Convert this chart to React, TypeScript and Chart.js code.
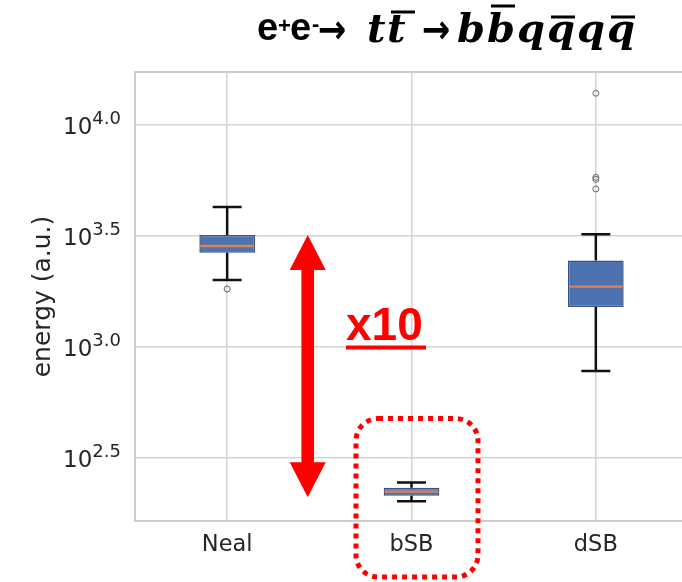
import React, { useEffect, useRef } from 'react';
import { Chart, registerables } from 'chart.js';

Chart.register(...registerables);

// ---- data (energy, a.u.) ----
const categories = ['Neal', 'bSB', 'dSB'];
const whiskerLow = [2005, 202, 780];
const quartile1 = [2660, 214, 1515];
const medians = [2850, 223, 1870];
const quartile3 = [3195, 232, 2450];
const whiskerHigh = [4275, 245, 3220];
const outliers: number[][] = [[1825], [], [5150, 5690, 5810, 13900]];
const yTickExponents = [2.5, 3.0, 3.5, 4.0];
const yMinExp = 2.2162;
const yMaxExp = 4.2387;

const SANS = '"DejaVu Sans", sans-serif';

const boxPlugin = {
  id: 'boxExtras',
  beforeDatasetsDraw(chart: any) {
    const { ctx, chartArea: a } = chart;
    ctx.save();
    ctx.strokeStyle = '#cccccc';
    ctx.lineWidth = 2;
    ctx.strokeRect(a.left, a.top, a.right - a.left, a.bottom - a.top);
    ctx.restore();
  },
  afterDatasetsDraw(chart: any) {
    const { ctx } = chart;
    const xs = chart.scales.x;
    const ys = chart.scales.y;
    const meta = chart.getDatasetMeta(0);
    ctx.save();
    categories.forEach((_, i) => {
      const cx = xs.getPixelForValue(i);
      const yLo = ys.getPixelForValue(whiskerLow[i]);
      const yQ1 = ys.getPixelForValue(quartile1[i]);
      const yMed = ys.getPixelForValue(medians[i]);
      const yQ3 = ys.getPixelForValue(quartile3[i]);
      const yHi = ys.getPixelForValue(whiskerHigh[i]);
      ctx.strokeStyle = '#111111';
      ctx.lineWidth = 2.5;
      ctx.lineCap = 'butt';
      ctx.beginPath();
      ctx.moveTo(cx, yQ3);
      ctx.lineTo(cx, yHi);
      ctx.moveTo(cx, yQ1);
      ctx.lineTo(cx, yLo);
      ctx.moveTo(cx - 14.5, yHi);
      ctx.lineTo(cx + 14.5, yHi);
      ctx.moveTo(cx - 14.5, yLo);
      ctx.lineTo(cx + 14.5, yLo);
      ctx.stroke();
      const hw = meta.data[i].width / 2;
      ctx.strokeStyle = '#dd8452';
      ctx.lineWidth = 2.3;
      ctx.beginPath();
      ctx.moveTo(cx - hw + 1, yMed);
      ctx.lineTo(cx + hw - 1, yMed);
      ctx.stroke();
      ctx.strokeStyle = '#666666';
      ctx.lineWidth = 1;
      outliers[i].forEach((v) => {
        ctx.beginPath();
        ctx.arc(cx, ys.getPixelForValue(v), 3, 0, Math.PI * 2);
        ctx.stroke();
      });
    });
    ctx.restore();
  },
  afterDraw(chart: any) {
    const { ctx } = chart;
    const xs = chart.scales.x;
    const ys = chart.scales.y;
    ctx.save();
    // y tick labels 10^e
    ctx.fillStyle = '#262626';
    ctx.textBaseline = 'alphabetic';
    yTickExponents.forEach((e) => {
      const gy = ys.getPixelForValue(Math.pow(10, e));
      const sup = e.toFixed(1);
      ctx.font = `18px ${SANS}`;
      const sw = ctx.measureText(sup).width;
      ctx.textAlign = 'right';
      ctx.fillText(sup, 121, gy - 0.5);
      ctx.font = `23px ${SANS}`;
      ctx.fillText('10', 121 - sw, gy + 9.5);
    });

    // title
    ctx.fillStyle = '#000000';
    ctx.textAlign = 'left';
    ctx.font = 'bold 38px "Liberation Sans"';
    ctx.fillText('e', 257, 40);
    ctx.fillText('e', 290, 40);
    ctx.font = 'bold 22px "Liberation Sans"';
    ctx.fillText('+', 278, 33);
    ctx.fillText('-', 312, 31);
    ctx.font = 'bold 40px "DejaVu Sans"';
    [318, 422].forEach((x) => {
      ctx.save();
      ctx.translate(x, 43);
      ctx.scale(0.85, 1);
      ctx.fillText('→', 0, 0);
      ctx.restore();
    });
    ctx.font = 'bold italic 40px "DejaVu Serif"';
    const letters: [string, number, number | null][] = [
      ['t', 367, null],
      ['t', 387, 12],
      ['b', 457, null],
      ['b', 487, 6],
      ['q', 517, null],
      ['q', 547, 17],
      ['q', 577, null],
      ['q', 607, 17],
    ];
    letters.forEach(([ch, x, bar]) => {
      ctx.fillText(ch, x, 42);
      if (bar !== null) ctx.fillRect(x + 4, bar - 1.5, 24, 3);
    });

    // red annotations
    const xN = xs.getPixelForValue(0);
    const xB = xs.getPixelForValue(1);
    const ax = xN + 0.437 * (xB - xN);
    const top = ys.getPixelForValue(quartile3[0]);
    const bot = ys.getPixelForValue(quartile1[1]) + 1.5;
    ctx.fillStyle = '#ff0000';
    ctx.beginPath();
    ctx.moveTo(ax, top);
    ctx.lineTo(ax + 18, top + 35);
    ctx.lineTo(ax + 6.3, top + 35);
    ctx.lineTo(ax + 6.3, bot - 35);
    ctx.lineTo(ax + 18, bot - 35);
    ctx.lineTo(ax, bot);
    ctx.lineTo(ax - 18, bot - 35);
    ctx.lineTo(ax - 6.3, bot - 35);
    ctx.lineTo(ax - 6.3, top + 35);
    ctx.lineTo(ax - 18, top + 35);
    ctx.closePath();
    ctx.fill();

    ctx.font = 'bold 46px "Liberation Sans"';
    ctx.fillText('x10', 346, 340);
    ctx.fillRect(346, 345.5, 80, 4);

    const rTop = ys.getPixelForValue(whiskerHigh[1]) - 64;
    const rL = xB - 55.5;
    const rR = xB + 66.5;
    const rB = 577;
    ctx.strokeStyle = '#ff0000';
    ctx.lineWidth = 5;
    ctx.setLineDash([5, 5]);
    ctx.beginPath();
    (ctx as any).roundRect(rL, rTop, rR - rL, rB - rTop, 22);
    ctx.stroke();
    ctx.restore();
  },
};

export default function App() {
  const ref = useRef<HTMLCanvasElement>(null);
  useEffect(() => {
    const canvas = ref.current!;
    const chart = new Chart(canvas, {
      type: 'bar',
      data: {
        labels: categories,
        datasets: [
          {
            label: 'IQR',
            data: quartile1.map((q, i) => [q, quartile3[i]]) as any,
            backgroundColor: '#4c72b0',
            borderColor: '#3a5283',
            borderWidth: 1.5,
            borderSkipped: false,
            barPercentage: 0.302,
            categoryPercentage: 1,
          },
        ],
      },
      options: {
        responsive: false,
        animation: false,
        devicePixelRatio: 1,
        layout: { padding: { left: 0, right: 32, top: 72, bottom: 0 } },
        plugins: {
          legend: { display: false },
          tooltip: { enabled: false },
        },
        scales: {
          x: {
            offset: true,
            grid: { offset: false, color: '#d4d4d4', lineWidth: 1.5, drawTicks: false },
            border: { display: false },
            ticks: {
              color: '#262626',
              font: { family: SANS, size: 22.5 },
              padding: 11,
              maxRotation: 0,
              autoSkip: false,
            },
            afterFit: (s: any) => {
              s.height = 61;
            },
          },
          y: {
            type: 'logarithmic',
            min: Math.pow(10, yMinExp),
            max: Math.pow(10, yMaxExp),
            bounds: 'data',
            grid: { color: '#d4d4d4', lineWidth: 1.5, drawTicks: false },
            border: { display: false },
            ticks: { display: false },
            afterBuildTicks: (s: any) => {
              s.ticks = yTickExponents.map((e) => ({ value: Math.pow(10, e) }));
            },
            afterFit: (s: any) => {
              s.width = 135;
            },
            title: {
              display: true,
              text: 'energy (a.u.)',
              color: '#262626',
              font: { family: SANS, size: 25 },
              padding: { top: 28, bottom: 0 },
            },
          },
        },
      } as any,
      plugins: [boxPlugin],
    });
    return () => chart.destroy();
  }, []);

  return (
    <div
      style={{
        position: 'absolute',
        left: 0,
        top: 0,
        width: 682,
        height: 582,
        overflow: 'hidden',
        background: '#ffffff',
      }}
    >
      <canvas
        ref={ref}
        width={720}
        height={582}
        style={{ position: 'absolute', left: 0, top: 0, display: 'block' }}
      />
    </div>
  );
}
